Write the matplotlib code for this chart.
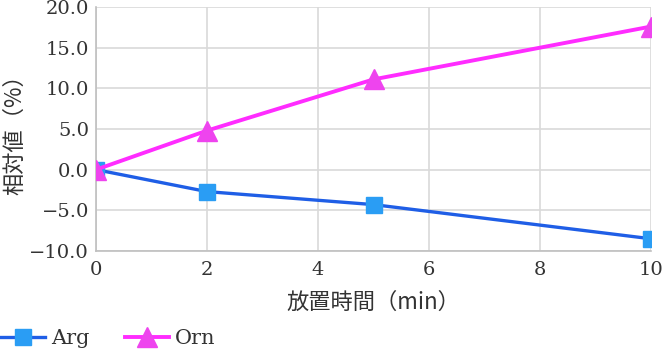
import matplotlib.pyplot as plt
from matplotlib.ticker import FuncFormatter

plt.rcParams['font.family'] = ['DejaVu Serif', 'Noto Sans CJK JP']

# data
minutes = [0, 2, 5, 10]
arg_vals = [0.0, -2.7, -4.3, -8.5]
orn_vals = [0.0, 4.8, 11.1, 17.6]

fig = plt.figure(figsize=(6.68, 3.51), dpi=100)
ax = fig.add_axes([0.1437, 0.285, 0.8309, 0.695])

ax.plot(minutes, arg_vals, "-s", color="#1f5ee6", lw=2.4, ms=12,
        mfc="#2a9df4", mec="#2a9df4", label="Arg", zorder=3)
ax.plot(minutes, orn_vals, "-^", color="#ff2cff", lw=2.8, ms=14,
        mfc="#ee44ee", mec="#ee44ee", label="Orn", zorder=4)

ax.set_xlim(0, 10)
ax.set_ylim(-10, 20)
ax.set_xticks(range(0, 11, 2))
ax.set_yticks([-10, -5, 0, 5, 10, 15, 20])
ax.yaxis.set_major_formatter(FuncFormatter(lambda v, p: f"{v:.1f}".replace("-", "\u2212")))
ax.tick_params(length=0, labelsize=14, colors="#333333")
ax.tick_params(axis="x", pad=7)
ax.tick_params(axis="y", pad=5)
ax.grid(True, color="#d9d9d9", lw=1.2)
ax.set_axisbelow(True)
for side in ["top", "right"]:
    ax.spines[side].set_visible(False)
for side in ["left", "bottom"]:
    ax.spines[side].set_color("#bfbfbf")
    ax.spines[side].set_linewidth(1.2)

ax.set_xlabel("放置時間（min）", fontsize=16,
              family=['Noto Sans CJK JP', 'DejaVu Serif'], color="#333333", labelpad=9)
ax.set_ylabel("相対値（%）", fontsize=16,
              family=['Noto Sans CJK JP', 'DejaVu Serif'], color="#333333", labelpad=2)

fig.legend(loc="center left", bbox_to_anchor=(-0.014, 0.035), ncol=2, frameon=False,
           fontsize=15, handlelength=2.1, handletextpad=0.3, columnspacing=1.7,
           borderpad=0, labelcolor="#333333")

fig.savefig("out.png", dpi=100)
